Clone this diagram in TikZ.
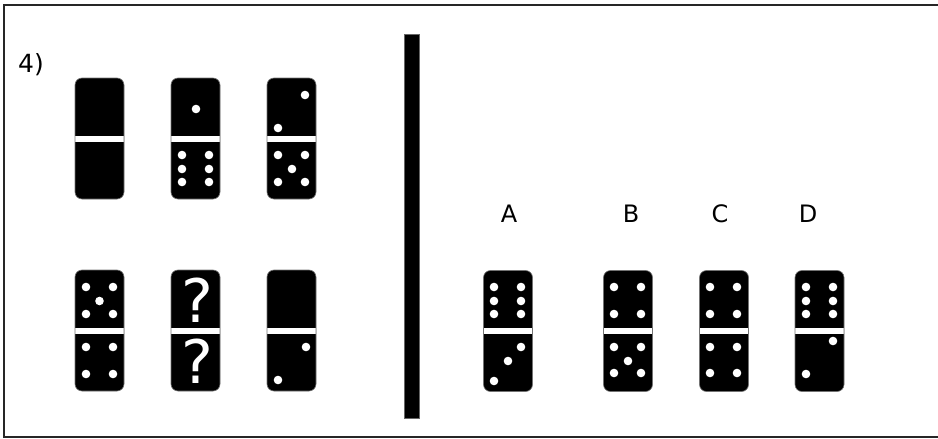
\documentclass[tikz,border=0pt]{standalone}
\usepackage{fontspec}
\setmainfont{DejaVu Sans}
\usepackage{tikz}
\usetikzlibrary{positioning}

\tikzset{
    tile/.style={fill=black, draw=black!55, line width=0.6pt, rounded corners=7pt,
        minimum width=49pt, minimum height=121pt, inner sep=0pt,
        path picture={\fill[white, sharp corners] ([yshift=-3pt]path picture bounding box.west)
            rectangle ([yshift=3pt]path picture bounding box.east);}},
    pip/.style={fill=white},
    label/.style={font=\fontsize{24}{28}\selectfont, inner sep=0pt},
    quest/.style={font=\fontsize{60}{60}\selectfont, text=white, inner sep=0pt}
}

\begin{document}
\begin{tikzpicture}[x=1pt, y=-1pt]
        \useasboundingbox (0,0) rectangle (938,439);
        % Frame (right side cut off)
        \draw[line width=2pt, black!85] (938,5) -- (3.5,5) -- (3.5,436.5) -- (938,436.5);

        % Question number
        \node[label, font=\fontsize{25}{30}\selectfont] (num) at (31,65) {4)};

        % Separator
        \fill[black, draw=black!60, line width=0.5pt] (404,34) rectangle (419,418);

        % Top row: blank/blank, 1/6, 2/5
        \node[tile] (t1) at (99.5,138.5) {};
        \node[tile] (t2) at (195.5,138.5) {};
        \foreach \x/\y in {196/109, 182/155, 209/155, 182/169, 209/169, 182/182, 209/182}
            \fill[pip] (\x,\y) circle (4.3);
        \node[tile] (t3) at (291.5,138.5) {};
        \foreach \x/\y in {305/95, 278/128, 278/155, 305/155, 292/169, 278/182, 305/182}
            \fill[pip] (\x,\y) circle (4.3);

        % Bottom row: 5/4, ?/?, blank/2
        \node[tile] (b1) at (99.5,330.5) {};
        \foreach \x/\y in {86/287, 113/287, 99.5/301, 86/314, 113/314, 86/347, 113/347, 86/374, 113/374}
            \fill[pip] (\x,\y) circle (4.3);
        \node[tile] (b2) at (195.5,330.5) {};
        \node[quest] (q1) at (197,300) {?};
        \node[quest] (q2) at (197,361) {?};
        \node[tile] (b3) at (291.5,330.5) {};
        \foreach \x/\y in {306/347, 278/380}
            \fill[pip] (\x,\y) circle (4.3);

        % Answer options
        \node[label] (lA) at (509,214) {A};
        \node[label] (lB) at (631,214) {B};
        \node[label] (lC) at (720,214) {C};
        \node[label] (lD) at (808,214) {D};

        % A: 6/3
        \node[tile] (oA) at (508,331) {};
        \foreach \x/\y in {494/287, 521/287, 494/301, 521/301, 494/314, 521/314, 521/347, 508/361, 494/381}
            \fill[pip] (\x,\y) circle (4.3);
        % B: 4/5
        \node[tile] (oB) at (628,331) {};
        \foreach \x/\y in {614/287, 641/287, 614/314, 641/314, 614/347, 641/347, 628/361, 614/373, 641/373}
            \fill[pip] (\x,\y) circle (4.3);
        % C: 4/4
        \node[tile] (oC) at (724,331) {};
        \foreach \x/\y in {710/287, 737/287, 710/314, 737/314, 710/347, 737/347, 710/373, 737/373}
            \fill[pip] (\x,\y) circle (4.3);
        % D: 6/2
        \node[tile] (oD) at (819.5,331) {};
        \foreach \x/\y in {806/287, 833/287, 806/301, 833/301, 806/314, 833/314, 833/341, 806/374}
            \fill[pip] (\x,\y) circle (4.3);
    \end{tikzpicture}
\end{document}
